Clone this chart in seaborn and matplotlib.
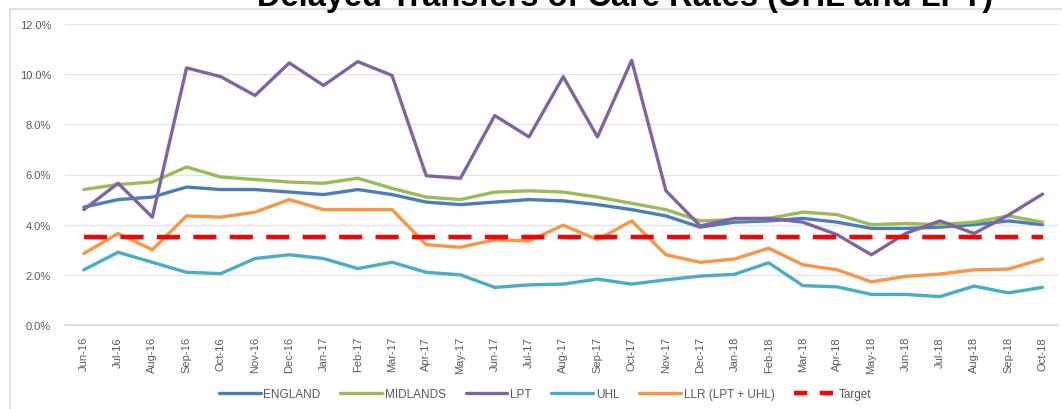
import numpy as np
import pandas as pd
import matplotlib
matplotlib.use("Agg")
import matplotlib.pyplot as plt
import seaborn as sns
from matplotlib.patches import Rectangle
from matplotlib.ticker import FuncFormatter

months = ["Jun-16", "Jul-16", "Aug-16", "Sep-16", "Oct-16", "Nov-16", "Dec-16",
          "Jan-17", "Feb-17", "Mar-17", "Apr-17", "May-17", "Jun-17", "Jul-17",
          "Aug-17", "Sep-17", "Oct-17", "Nov-17", "Dec-17", "Jan-18", "Feb-18",
          "Mar-18", "Apr-18", "May-18", "Jun-18", "Jul-18", "Aug-18", "Sep-18",
          "Oct-18"]

england = [4.7, 5.0, 5.1, 5.5, 5.4, 5.4, 5.3, 5.2, 5.4, 5.2, 4.9, 4.8, 4.9, 5.0,
           4.95, 4.8, 4.6, 4.35, 3.9, 4.1, 4.15, 4.25, 4.1, 3.85, 3.85, 3.9, 4.0,
           4.15, 4.0]
midlands = [5.4, 5.6, 5.7, 6.3, 5.9, 5.8, 5.7, 5.65, 5.85, 5.45, 5.1, 5.0, 5.3,
            5.35, 5.3, 5.1, 4.85, 4.6, 4.15, 4.2, 4.25, 4.5, 4.4, 4.0, 4.05, 4.0,
            4.1, 4.35, 4.1]
lpt = [4.6, 5.65, 4.3, 10.25, 9.9, 9.15, 10.45, 9.55, 10.5, 9.95, 5.95, 5.85,
       8.35, 7.5, 9.9, 7.5, 10.55, 5.35, 3.95, 4.25, 4.25, 4.1, 3.6, 2.8, 3.65,
       4.15, 3.65, 4.38, 5.22]
uhl = [2.2, 2.9, 2.5, 2.1, 2.05, 2.65, 2.8, 2.65, 2.25, 2.5, 2.1, 2.0, 1.5, 1.6,
       1.63, 1.83, 1.63, 1.8, 1.95, 2.02, 2.48, 1.57, 1.52, 1.22, 1.22, 1.13,
       1.55, 1.28, 1.5]
llr = [2.85, 3.65, 3.0, 4.35, 4.3, 4.5, 5.0, 4.6, 4.6, 4.6, 3.2, 3.1, 3.4, 3.35,
       3.98, 3.4, 4.15, 2.8, 2.5, 2.63, 3.06, 2.4, 2.2, 1.72, 1.94, 2.03, 2.2,
       2.23, 2.63]
target = [3.5] * len(months)

series = {
    "ENGLAND": (england, "#4A7EBB"),
    "MIDLANDS": (midlands, "#9BBB59"),
    "LPT": (lpt, "#8064A2"),
    "UHL": (uhl, "#4BACC6"),
    "LLR (LPT + UHL)": (llr, "#F79646"),
}

sns.set_style("white")
plt.rcParams["font.family"] = ["Liberation Sans", "DejaVu Sans"]

fig = plt.figure(figsize=(10.62, 4.10), dpi=100)
ax = fig.add_axes([65 / 1062, 1 - 326 / 410, (1058 - 65) / 1062, (326 - 25) / 410])

x = np.arange(len(months))
for name, (vals, col) in series.items():
    sns.lineplot(x=x, y=np.array(vals) / 100, ax=ax, color=col, lw=2.4,
                 label=name)
sns.lineplot(x=x, y=np.array(target) / 100, ax=ax, color="#FF0000", lw=3.2,
             label="Target")
ax.lines[-1].set_dashes([5.2, 3.0])

ax.set_xlim(-0.55, 28.45)
ax.set_ylim(0, 0.12)
ax.set_yticks(np.arange(0, 0.121, 0.02))
ax.yaxis.set_major_formatter(FuncFormatter(lambda v, p: f"{v * 100:.1f}%"))
ax.set_xticks(x)
ax.set_xticklabels(months, rotation=90)
ax.tick_params(axis="both", length=0, labelsize=8, labelcolor="#595959")
ax.tick_params(axis="x", pad=8)
ax.tick_params(axis="y", pad=10)
ax.grid(axis="y", color="#E3E3E3", lw=0.9)
ax.set_axisbelow(True)
for s in ["top", "right", "left"]:
    ax.spines[s].set_visible(False)
ax.spines["bottom"].set_color("#D9D9D9")
ax.spines["bottom"].set_linewidth(1.2)
ax.set_xlabel("")
ax.set_ylabel("")

handles, labels = ax.get_legend_handles_labels()
ax.legend_.remove()
leg = fig.legend(handles, labels, loc="center", ncol=6,
                 bbox_to_anchor=(545 / 1062, 1 - 395 / 410), frameon=False,
                 fontsize=8.5, handlelength=3.55, columnspacing=1.7,
                 handletextpad=0.2)
for t in leg.get_texts():
    t.set_color("#595959")
leg.legend_handles[-1].set_dashes([3.0, 2.8])

fig.patches.append(Rectangle((10 / 1062, -0.01), 1.0, 1 - 10 / 410 + 0.01,
                             transform=fig.transFigure, fill=False,
                             ec="#D9D9D9", lw=1.2))

fig.text(625 / 1062, 1 - 6 / 410, "Delayed Transfers of Care Rates (UHL and LPT)",
         ha="center", va="baseline", fontsize=23.5, fontweight="bold",
         color="black")

fig.savefig("out.png", dpi=100)
